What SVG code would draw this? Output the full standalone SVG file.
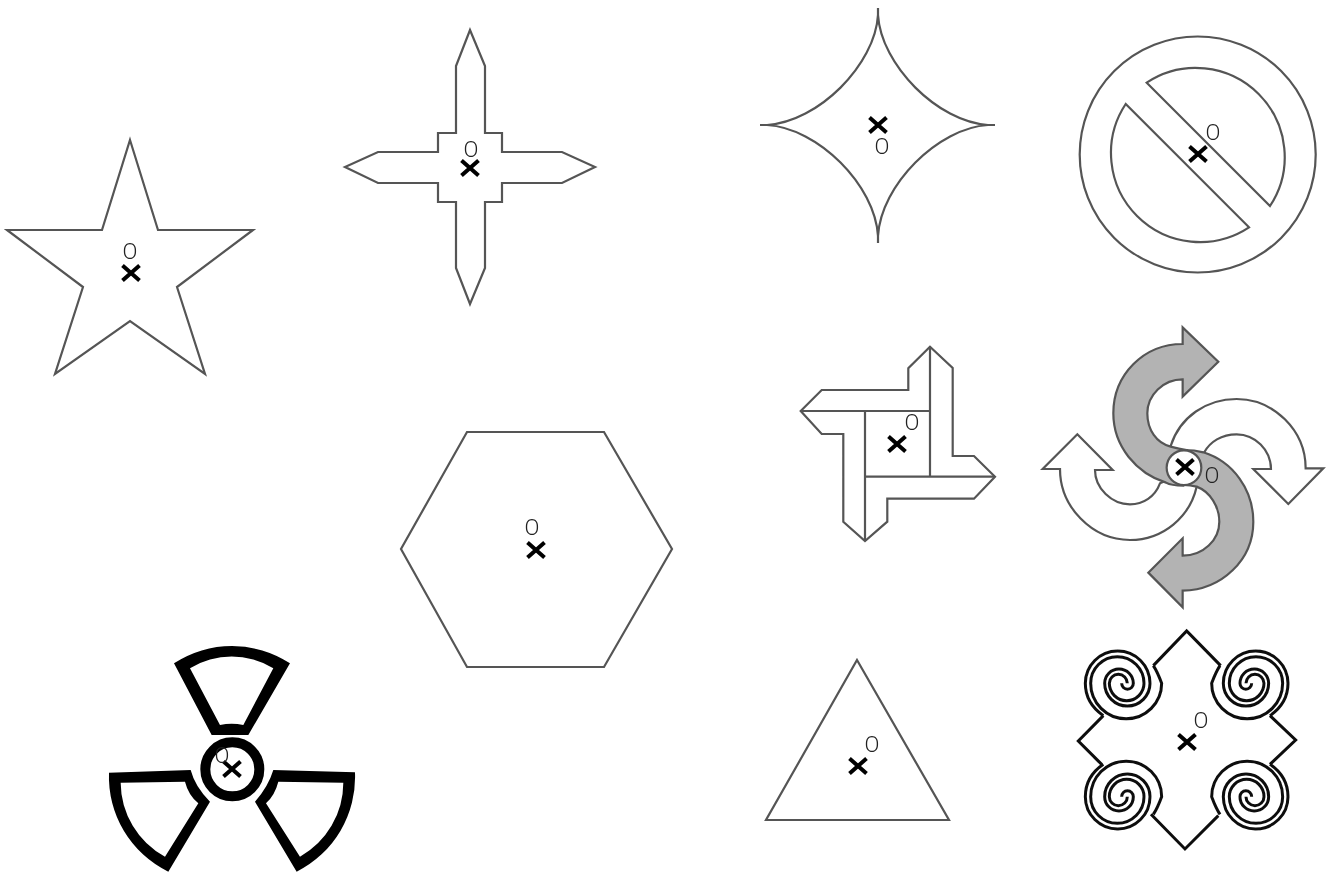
<svg xmlns="http://www.w3.org/2000/svg" xmlns:xlink="http://www.w3.org/1999/xlink" width="1329" height="873" viewBox="0 0 1329 873">
<style>
.s{fill:#fff;stroke:#555;stroke-width:2.2;stroke-linejoin:miter}
.i{fill:none;stroke:#555;stroke-width:2.2}
.o{font-family:"Roboto","Liberation Sans",sans-serif;font-weight:300;font-size:22px;fill:#222;text-anchor:middle}
.x{fill:none;stroke:#000;stroke-width:4}
.sp{fill:none;stroke:#111;stroke-width:9}
.n{filter:url(#b)}
</style>
<defs>
<filter id="b" x="-5%" y="-5%" width="110%" height="110%"><feGaussianBlur stdDeviation="0.5"/></filter>
<path id="m" class="x" d="M-8.500 -7.500L8.500 7.500M8.500 -7.500L-8.500 7.500"/>
<g id="sp"><path class="sp" d="M250 122Q262 140 275 175A106.500 106.500 0 0 1 62 175A80 80 0 0 1 222 175A52 52 0 0 1 118 175A27 27 0 0 1 172 175"/><path class="sp" d="M100 272Q46 235 46 175A97 97 0 0 1 240 175A68 68 0 0 1 104 175A43 43 0 0 1 190 175A17.500 17.500 0 0 1 155 175"/></g>
</defs>
<rect width="1329" height="873" fill="#fff"/>
<g id="star" class="n"><path class="s" d="M130 140L158 230L253 230L177 287L205 374L130 321L55 374L83 287L7 230L102 230Z"/><use href="#m" x="131" y="273"/><text class="o" x="130" y="259">O</text></g>
<g id="cross" class="n"><path class="s" d="M470 30L485 66L485 133L502 133L502 152L562 152L595 167L562 183L502 183L502 202L485 202L485 268L470 304L456 268L456 202L438 202L438 183L378 183L345 167L378 152L438 152L438 133L456 133L456 66Z"/><use href="#m" x="470" y="168"/><text class="o" x="471" y="157">O</text></g>
<g id="astroid" class="n"><path class="s" d="M878 8L878 15C881 65 938 122 988 125L995 125L988 125C938 128 881 185 878 236L878 243L878 236C875 185 818 128 767 125L760 125L767 125C818 122 875 65 878 15Z"/><use href="#m" x="878" y="125"/><text class="o" x="882" y="154">O</text></g>
<g id="prohibit" class="n"><circle class="s" cx="1197.700" cy="154.500" r="118"/><path class="i" d="M1146.700 82.700A89 89 0 0 1 1270 206ZM1125.700 104A89 89 0 0 0 1249 227.300Z"/><use href="#m" x="1198" y="154"/><text class="o" x="1213" y="140">O</text></g>
<g id="pinwheel" class="n"><path class="s" d="M930 346.700L952.700 368L952.700 456L974 456L995 476.700L974 498.700L887.300 498.700L887.300 521.700L865 541L843.300 521.700L843.300 434L821.700 434L800.700 411L821.700 390L908.300 390L908.300 368.300Z"/><path class="i" d="M800.700 411H930M930 346.700V476.700M865 476.700H995M865 411V541"/><use href="#m" x="897" y="444"/><text class="o" x="912" y="430">O</text></g>
<g id="arrows" class="n"><g transform="translate(1040 320) scale(.3333)" stroke="#555" stroke-width="6.600">
<path fill="#fff" d="M392 378C420 290 500 237 590 237C700 237 797 330 797 445L850 445L745 552L640 447L693 447C693 390 645 343 590 343C545 343 510 365 492 398L432 430Z"/>
<path fill="#fff" d="M360 490C345 530 310 553 270 553C215 553 165 505 165 450L218 450L112 343L8 447L60 447C60 560 155 660 270 660C370 660 450 590 470 500L432 460Z"/>
<path fill="#b3b3b3" d="M430 497C400 497 385 492 378 488C290 460 220 380 220 280C220 165 310 72 428 72L428 22L535 125L428 230L428 178C370 178 322 225 322 280C322 330 350 370 392 380C410 385 425 388 440 390Z"/>
<path fill="#b3b3b3" d="M432 390C460 390 475 393 490 397C580 425 640 510 640 605C640 720 545 810 428 812L428 862L325 758L428 655L428 707C490 707 538 660 538 605C538 560 510 515 470 500C455 496 445 495 430 495Z"/>
<circle cx="432" cy="443" r="52" fill="#fff"/></g><use href="#m" x="1185" y="467"/><text class="o" x="1212" y="483">O</text></g>
<g id="hexagon" class="n"><path class="s" d="M467 432L604 432L672 549L604 667L467 667L401 549Z"/><use href="#m" x="536" y="550"/><text class="o" x="532" y="535">O</text></g>
<g id="radiation" class="n"><g transform="translate(100 640) scale(.3333)"><path fill="#000" fill-rule="evenodd" d="M222 70A317 317 0 0 1 570 70L445 285L335 285ZM270 85L360 255Q395 247 430 255L520 85A240 240 0 0 0 270 85Z"/>
<path fill="#000" fill-rule="evenodd" d="M27 398L272 390Q285 440 330 485L205 695A317 317 0 0 1 27 398ZM62 428A255 255 0 0 0 195 650L295 490Q265 465 255 425Z"/>
<path fill="#000" fill-rule="evenodd" d="M765 397L520 390Q505 440 465 485L590 695A317 317 0 0 0 765 397ZM730 428A255 255 0 0 1 600 650L498 490Q525 465 535 425Z"/>
<circle cx="397" cy="388" r="81" fill="#fff" stroke="#000" stroke-width="30"/></g><use href="#m" x="232" y="769"/><text class="o" x="222" y="763">O</text></g>
<g id="triangle" class="n"><path class="s" d="M857 660L949 820L766 820Z"/><use href="#m" x="858" y="766"/><text class="o" x="872" y="752">O</text></g>
<g id="spirals" class="n"><g transform="translate(1070 625) scale(.3333)"><path class="sp" d="M250 122L350 18L452 122M600 272L677 345L600 418M243 568L345 672L445 572M100 272L25 348L95 418"/><use href="#sp"/><use href="#sp" transform="matrix(-1 0 0 1 700 0)"/><use href="#sp" transform="matrix(1 0 0 -1 0 690)"/><use href="#sp" transform="matrix(-1 0 0 -1 700 690)"/></g><use href="#m" x="1187" y="742"/><text class="o" x="1201" y="728">O</text></g>
</svg>
